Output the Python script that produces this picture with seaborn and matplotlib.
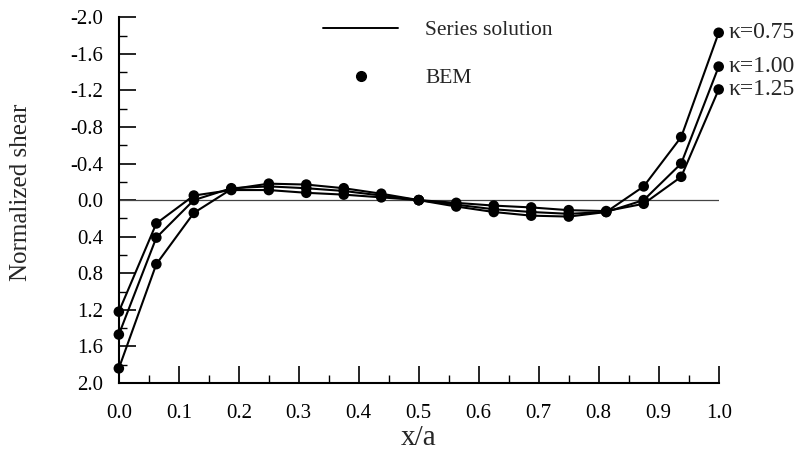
import matplotlib
matplotlib.use("Agg")
import matplotlib.pyplot as plt
from matplotlib.lines import Line2D
from matplotlib.ticker import MultipleLocator, FormatStrFormatter
import numpy as np
import pandas as pd
import seaborn as sns

# Sample positions along the crack, x/a
x_pos = [0.0, 0.0625, 0.125, 0.1875, 0.25, 0.3125, 0.375, 0.4375, 0.5,
         0.5625, 0.625, 0.6875, 0.75, 0.8125, 0.875, 0.9375, 1.0]

# Normalized shear for each stiffness ratio
shear_k075 = [1.84, 0.70, 0.14, -0.12, -0.18, -0.17, -0.13, -0.07, 0.0,
              0.07, 0.13, 0.17, 0.18, 0.13, -0.15, -0.69, -1.83]
shear_k100 = [1.47, 0.41, 0.00, -0.13, -0.15, -0.13, -0.10, -0.05, 0.0,
              0.05, 0.10, 0.13, 0.15, 0.13, 0.00, -0.40, -1.46]
shear_k125 = [1.22, 0.255, -0.05, -0.11, -0.11, -0.08, -0.06, -0.03, 0.0,
              0.03, 0.06, 0.08, 0.11, 0.12, 0.04, -0.255, -1.21]

kappa_labels = ["κ=0.75", "κ=1.00", "κ=1.25"]
series = [shear_k075, shear_k100, shear_k125]

frames = []
for lab, vals in zip(kappa_labels, series):
    frames.append(pd.DataFrame({"x": x_pos, "shear": vals, "kappa": lab}))
df = pd.concat(frames, ignore_index=True)

sns.set_theme(style="ticks")
plt.rcParams["font.family"] = ["Liberation Serif", "DejaVu Serif"]

fig = plt.figure(figsize=(8.03, 4.53), dpi=100)
ax = fig.add_axes([0.148, 0.1545, 0.747, 0.8075])

black = {lab: "black" for lab in kappa_labels}
sns.lineplot(data=df, x="x", y="shear", hue="kappa", palette=black,
             linewidth=1.5, legend=False, ax=ax, sort=True)
sns.scatterplot(data=df, x="x", y="shear", hue="kappa", palette=black,
                s=58, edgecolor="black", linewidth=0, legend=False, ax=ax,
                zorder=3, clip_on=False)

# zero reference line
ax.plot([0, 1], [0, 0], color="#444444", linewidth=0.9, zorder=1)

ax.set_xlim(0, 1.0)
ax.set_ylim(2.0, -2.0)
ax.xaxis.set_major_locator(MultipleLocator(0.1))
ax.xaxis.set_minor_locator(MultipleLocator(0.05))
ax.yaxis.set_major_locator(MultipleLocator(0.4))
ax.yaxis.set_minor_locator(MultipleLocator(0.2))
ax.xaxis.set_major_formatter(FormatStrFormatter("%.1f"))
ax.yaxis.set_major_formatter(FormatStrFormatter("%.1f"))

ax.tick_params(axis="both", which="major", direction="in", length=12,
               width=1.2, labelsize=15, color="black", labelcolor="black")
ax.tick_params(axis="both", which="minor", direction="in", length=6,
               width=1.0, color="black")
ax.tick_params(axis="y", which="major", pad=11)
ax.tick_params(axis="x", which="major", pad=15)

for side in ["top", "right"]:
    ax.spines[side].set_visible(False)
for side in ["left", "bottom"]:
    ax.spines[side].set_linewidth(1.5)
    ax.spines[side].set_color("black")

ax.set_xlabel("x/a", fontsize=21)
ax.set_ylabel("Normalized shear", fontsize=18)
ax.xaxis.set_label_coords(0.5, -0.115)
ax.yaxis.set_label_coords(-0.145, 0.522)

# curve labels at the right end
for lab, vals in zip(kappa_labels, series):
    ax.annotate(lab, xy=(1.0, vals[-1]), xytext=(7, 0),
                textcoords="offset points", ha="left", va="center",
                fontsize=17, annotation_clip=False)

handles = [Line2D([], [], color="black", linewidth=1.4),
           Line2D([], [], color="black", linestyle="none", marker="o",
                  markersize=7)]
fig.legend(handles, ["Series solution", "BEM"], loc="upper left",
           bbox_to_anchor=(323 / 803, 1 - 20 / 453), frameon=False,
           fontsize=15.5, handlelength=3.5, handletextpad=1.25,
           labelspacing=1.3, borderpad=0, borderaxespad=0)

fig.savefig("out.png", dpi=100)
